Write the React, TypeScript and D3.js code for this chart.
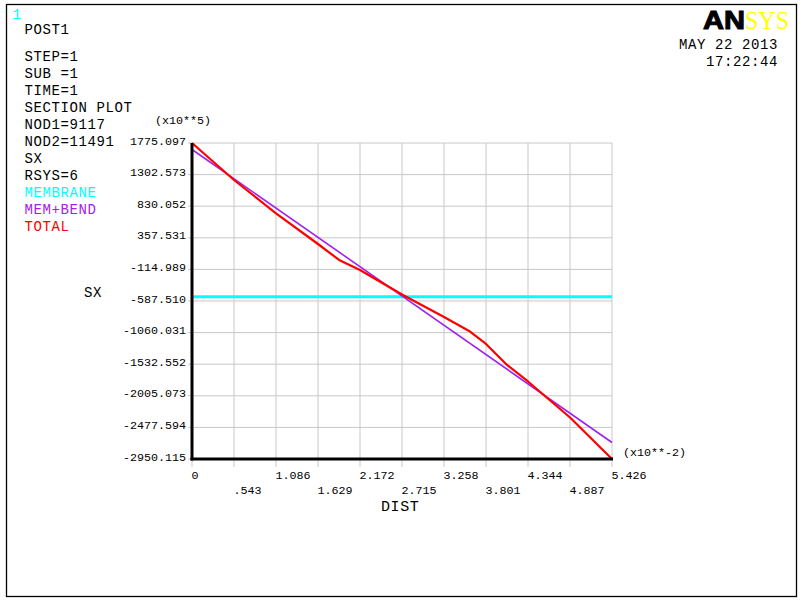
import React from "react";
import * as d3 from "d3";

const xTicks = [0, 0.5426, 1.0852, 1.6278, 2.1704, 2.713, 3.2556, 3.7982, 4.3408, 4.8834, 5.426];
const xTickLabels = ["0", ".543", "1.086", "1.629", "2.172", "2.715", "3.258", "3.801", "4.344", "4.887", "5.426"];
const yTicks = [1775.097, 1302.573, 830.052, 357.531, -114.989, -587.51, -1060.031, -1532.552, -2005.073, -2477.594, -2950.115];
const yTickLabels = ["1775.097", "1302.573", "830.052", "357.531", "-114.989", "-587.510", "-1060.031", "-1532.552", "-2005.073", "-2477.594", "-2950.115"];

const membraneX = [0, 5.426];
const membraneY = [-523, -523];
const memBendX = [0, 5.426];
const memBendY = [1678, -2703];
const totalX = [0, 0.2713, 0.5426, 1.0852, 1.6278, 1.9, 2.1704, 2.713, 3.2556, 3.58, 3.7982, 4.07, 4.3408, 4.8834, 5.426];
const totalY = [1775.097, 1498, 1222, 724, 265, 26, -124, -490, -827, -1036, -1230, -1544, -1791, -2330, -2950.115];

const infoLines = ["STEP=1", "SUB =1", "TIME=1", "SECTION PLOT", "NOD1=9117", "NOD2=11491", "SX", "RSYS=6"];
const legendLabels = ["MEMBRANE", "MEM+BEND", "TOTAL"];
const legendColors = ["#00ffff", "#a020f0", "#ff0000"];

const mono = "'Liberation Mono', 'Courier New', monospace";

export default function App() {
  const x = d3.scaleLinear().domain([0, 5.426]).range([192, 612]);
  const y = d3.scaleLinear().domain([-2950.115, 1775.097]).range([459, 143]);
  const line = d3
    .line<[number, number]>()
    .x((d) => x(d[0]))
    .y((d) => y(d[1]));
  const pts = (xs: number[], ys: number[]) => xs.map((v, i) => [v, ys[i]] as [number, number]);

  const textStyle = { fontFamily: mono, fontSize: 14, letterSpacing: 0.6 };
  const tickStyle = { fontFamily: mono, fontSize: 11.7 };

  return (
    <svg
      width={802}
      height={601}
      style={{ position: "absolute", left: 0, top: 0, background: "#fff" }}
    >
      <rect x={0} y={0} width={802} height={601} fill="#fff" />
      <rect x={6.5} y={4.5} width={790} height={592} fill="none" stroke="#000" strokeWidth={1.3} />
      <text x={12.5} y={18.5} fill="#00ffff" fontFamily={mono} fontSize={14.5}>1</text>
      <text x={24.5} y={34} fill="#000" style={textStyle}>POST1</text>
      {infoLines.map((t, i) => (
        <text key={t} x={24.5} y={60.5 + i * 17} fill="#000" style={textStyle}>{t}</text>
      ))}
      {legendLabels.map((t, i) => (
        <text key={t} x={24.5} y={196.5 + i * 17} fill={legendColors[i]} style={textStyle}>{t}</text>
      ))}

      {/* ANSYS logo */}
      <text x={703} y={28.5} fontFamily="'Liberation Sans', Arial, sans-serif" fontWeight={900} fontSize={25} textLength={42} lengthAdjust="spacingAndGlyphs" fill="#000" stroke="#000" strokeWidth={1}>AN</text>
      <text x={745} y={28.5} fontFamily="'Liberation Serif', 'Times New Roman', serif" fontSize={25} textLength={44} lengthAdjust="spacingAndGlyphs" fill="#ffff00">SYS</text>
      <text x={778} y={48.5} textAnchor="end" fill="#000" style={textStyle}>MAY 22 2013</text>
      <text x={778} y={66} textAnchor="end" fill="#000" style={textStyle}>17:22:44</text>

      {/* grid */}
      {xTicks.map((v) => (
        <line key={"gx" + v} x1={x(v)} x2={x(v)} y1={143} y2={467} stroke="#c8c8c8" strokeWidth={1} />
      ))}
      {yTicks.map((v) => (
        <line key={"gy" + v} x1={188} x2={612} y1={y(v)} y2={y(v)} stroke="#c8c8c8" strokeWidth={1} />
      ))}

      {/* tick labels */}
      {yTicks.map((v, i) => (
        <text key={"ly" + v} x={186} y={y(v) + 1.5} textAnchor="end" fill="#000" style={tickStyle}>{yTickLabels[i]}</text>
      ))}
      {xTicks.map((v, i) => (
        <text key={"lx" + v} x={x(v) - 0.5} y={i % 2 === 0 ? 478.5 : 494} fill="#000" style={tickStyle}>{xTickLabels[i]}</text>
      ))}
      <text x={155} y={124} fill="#000" style={tickStyle}>(x10**5)</text>
      <text x={623} y={455.5} fill="#000" style={tickStyle}>(x10**-2)</text>
      <text x={84} y={297} fill="#000" style={textStyle}>SX</text>
      <text x={381} y={510.5} fill="#000" style={{ ...textStyle, fontSize: 15 }}>DIST</text>

      {/* series */}
      <path d={line(pts(membraneX, membraneY)) || ""} fill="none" stroke="#00ffff" strokeWidth={3} />
      <path d={line(pts(memBendX, memBendY)) || ""} fill="none" stroke="#a020f0" strokeWidth={1.6} />
      <path d={line(pts(totalX, totalY)) || ""} fill="none" stroke="#ff0000" strokeWidth={2.2} strokeLinejoin="round" />

      {/* axes */}
      <line x1={192} x2={192} y1={143} y2={460.5} stroke="#000" strokeWidth={3} />
      <line x1={190.5} x2={613} y1={459} y2={459} stroke="#000" strokeWidth={3} />
    </svg>
  );
}
